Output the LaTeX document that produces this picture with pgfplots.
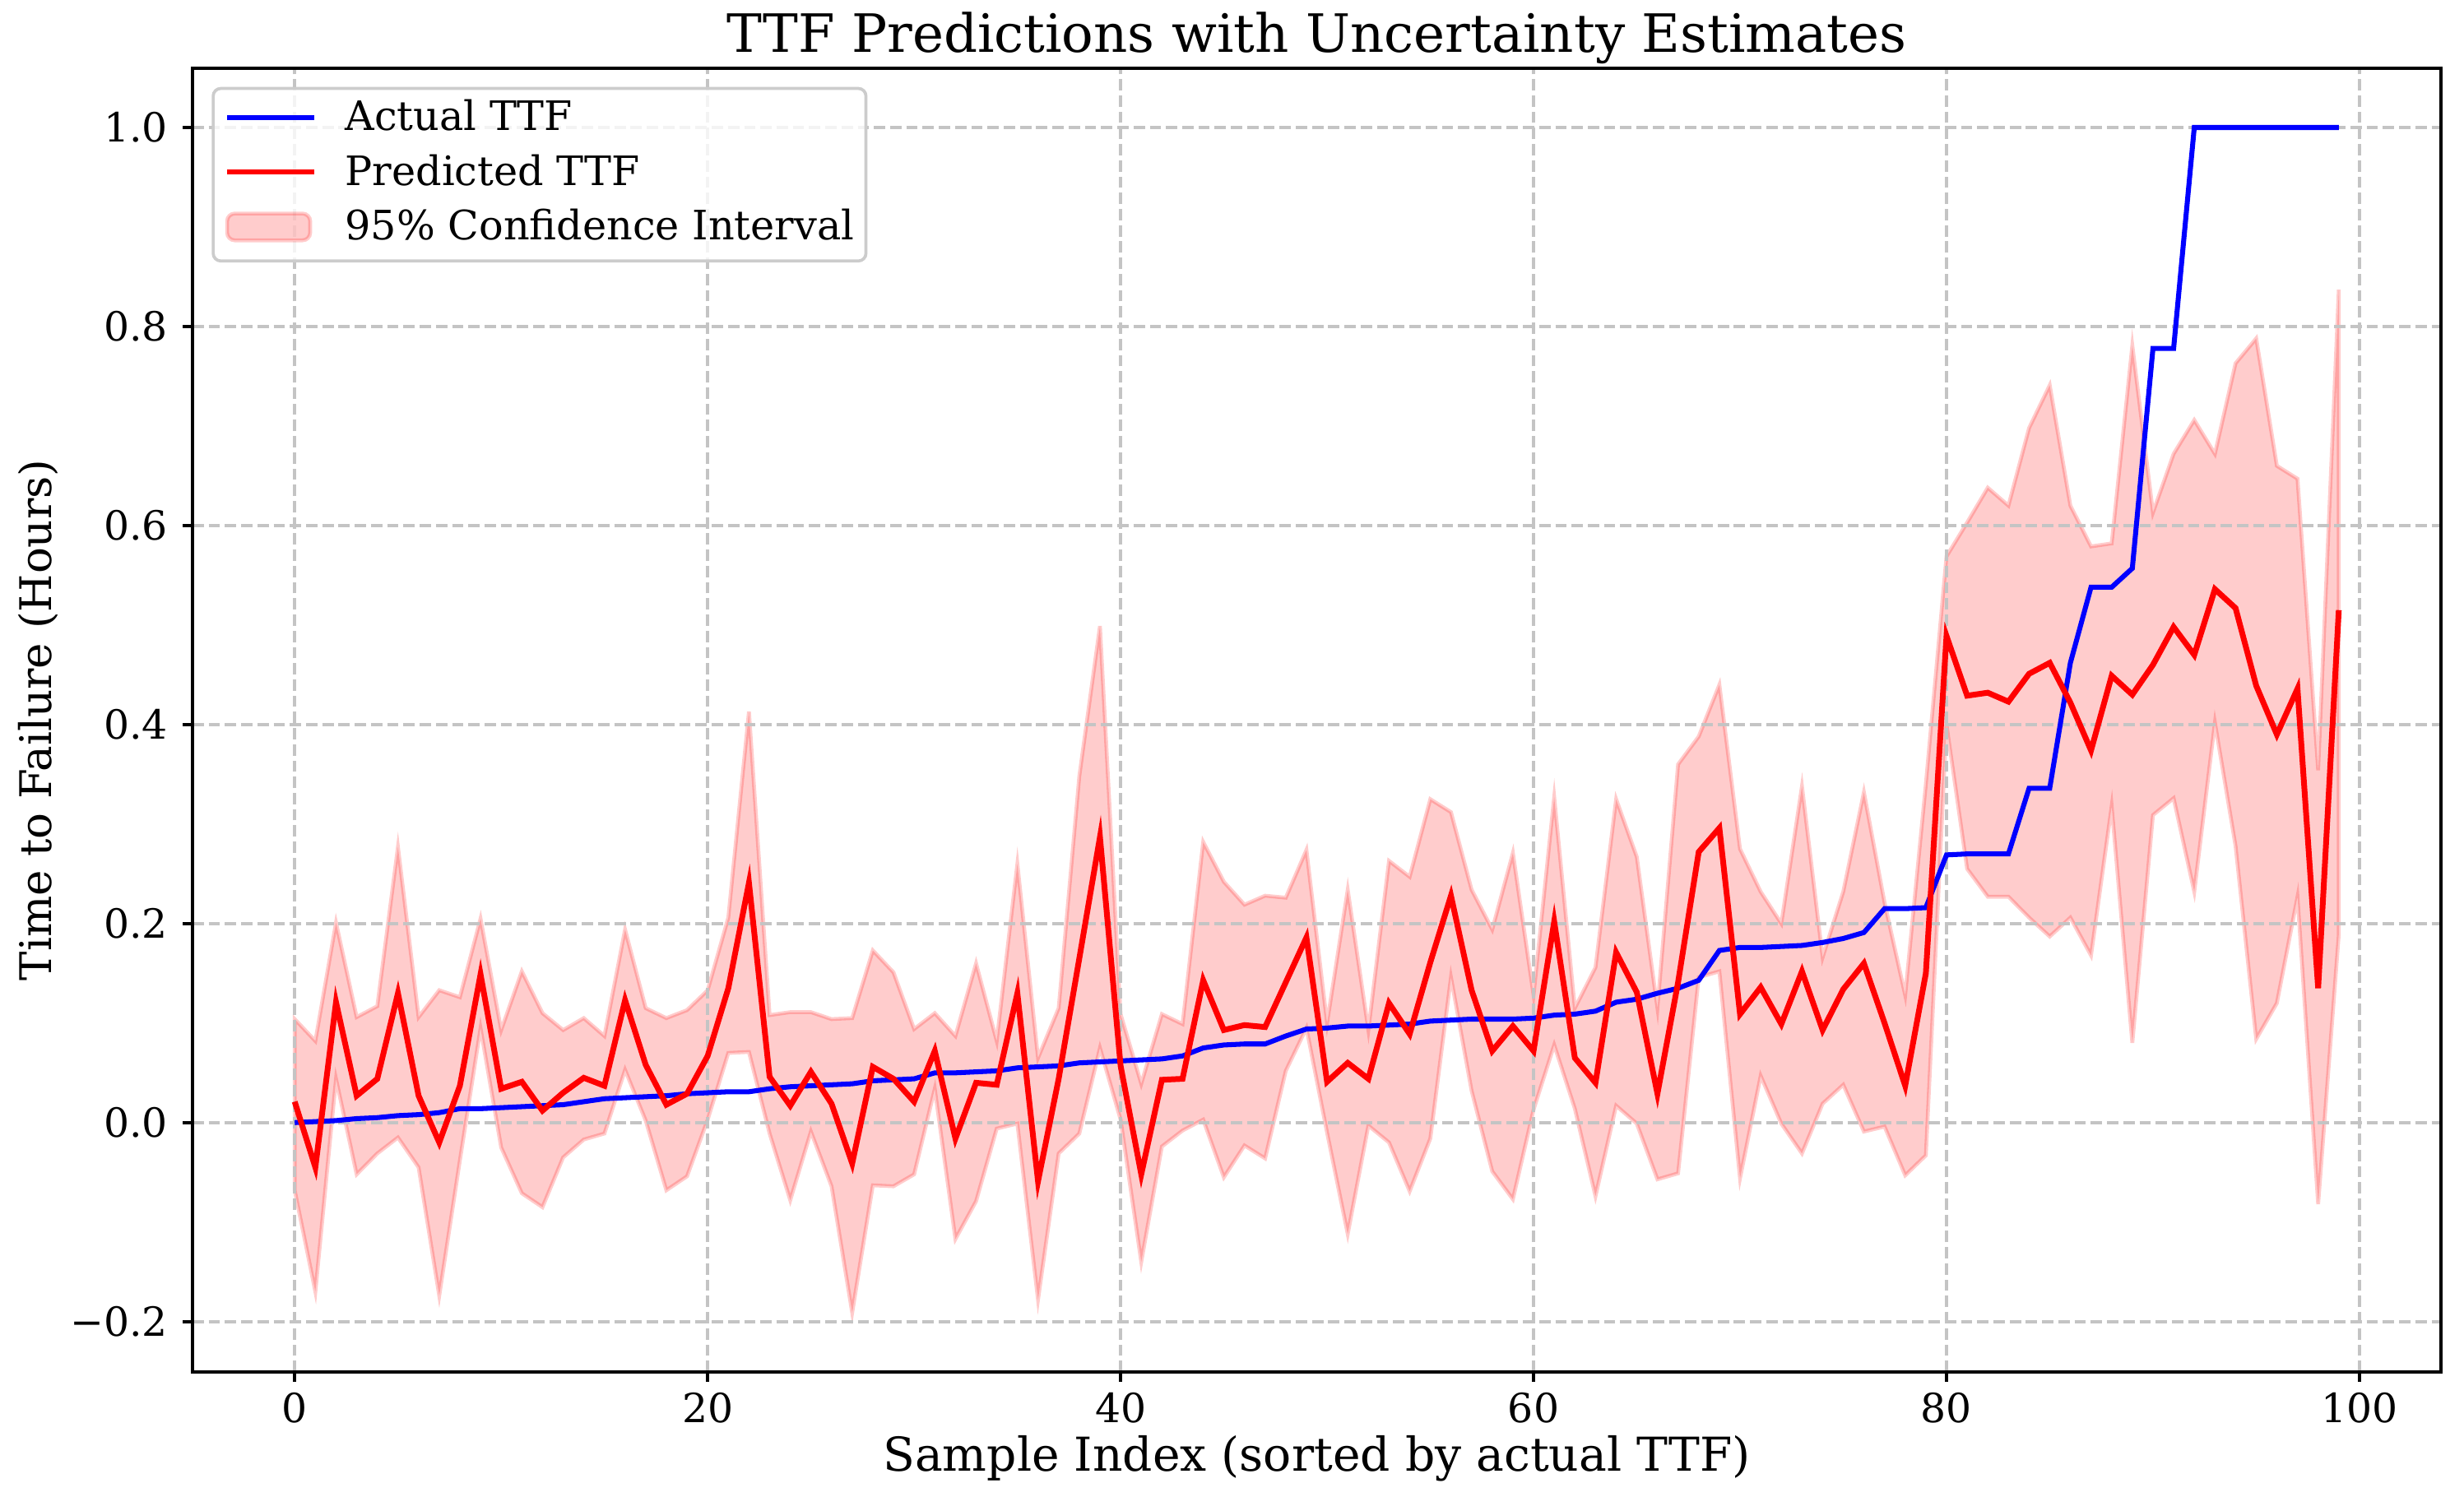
\documentclass[border=0pt]{standalone}
\usepackage{pgfplots}
\pgfplotsset{compat=1.18}
\usepackage{pgfplotstable}
\usepgfplotslibrary{fillbetween}
\usepackage{fontspec}
\setmainfont{DejaVu Serif}
\definecolor{gridc}{HTML}{C4C4C4}
\definecolor{legc}{HTML}{CCCCCC}
\pgfplotsset{
  legline/.style={legend image code/.code={\draw[##1] (0pt,3.4pt) -- (22.8pt,3.4pt);}},
  legarea/.style={legend image code/.code={\draw[##1] (0pt,-0.1pt) rectangle (21.7pt,6.9pt);}},
}
\pgfplotstableread{
i act pred lo up
0 0.000 0.021 -0.068 0.104
1 0.001 -0.045 -0.170 0.082
2 0.002 0.121 0.044 0.201
3 0.004 0.027 -0.052 0.106
4 0.005 0.044 -0.031 0.117
5 0.007 0.130 -0.015 0.277
6 0.008 0.027 -0.045 0.106
7 0.010 -0.020 -0.174 0.133
8 0.014 0.037 -0.038 0.126
9 0.014 0.149 0.095 0.205
10 0.015 0.034 -0.025 0.093
11 0.016 0.041 -0.071 0.152
12 0.017 0.012 -0.085 0.110
13 0.018 0.030 -0.035 0.093
14 0.021 0.045 -0.017 0.105
15 0.024 0.037 -0.011 0.087
16 0.025 0.123 0.053 0.194
17 0.026 0.058 0.002 0.115
18 0.027 0.018 -0.068 0.105
19 0.029 0.029 -0.054 0.113
20 0.030 0.067 0.003 0.133
21 0.031 0.135 0.070 0.206
22 0.031 0.241 0.071 0.413
23 0.034 0.046 -0.011 0.108
24 0.036 0.017 -0.078 0.111
25 0.037 0.051 -0.009 0.111
26 0.038 0.019 -0.064 0.104
27 0.039 -0.041 -0.191 0.105
28 0.042 0.056 -0.063 0.173
29 0.043 0.044 -0.064 0.151
30 0.044 0.021 -0.052 0.094
31 0.050 0.072 0.034 0.110
32 0.050 -0.016 -0.117 0.087
33 0.051 0.040 -0.079 0.160
34 0.052 0.038 -0.006 0.082
35 0.055 0.130 -0.001 0.260
36 0.056 -0.059 -0.178 0.065
37 0.057 0.044 -0.031 0.115
38 0.060 0.165 -0.011 0.348
39 0.061 0.287 0.075 0.499
40 0.062 0.057 0.003 0.109
41 0.063 -0.052 -0.140 0.039
42 0.064 0.043 -0.024 0.109
43 0.067 0.044 -0.008 0.099
44 0.075 0.143 0.003 0.282
45 0.078 0.093 -0.055 0.242
46 0.079 0.098 -0.023 0.219
47 0.079 0.096 -0.036 0.228
48 0.087 0.141 0.052 0.226
49 0.094 0.186 0.095 0.274
50 0.095 0.041 -0.010 0.100
51 0.097 0.060 -0.112 0.234
52 0.097 0.044 -0.003 0.093
53 0.098 0.120 -0.020 0.263
54 0.099 0.089 -0.069 0.247
55 0.102 0.161 -0.016 0.325
56 0.103 0.228 0.146 0.312
57 0.104 0.133 0.032 0.234
58 0.104 0.072 -0.049 0.194
59 0.104 0.097 -0.077 0.271
60 0.105 0.072 0.013 0.128
61 0.108 0.202 0.078 0.327
62 0.109 0.065 0.014 0.115
63 0.112 0.040 -0.074 0.156
64 0.121 0.171 0.017 0.325
65 0.124 0.131 -0.001 0.267
66 0.130 0.029 -0.057 0.115
67 0.135 0.141 -0.051 0.360
68 0.143 0.272 0.146 0.388
69 0.173 0.296 0.152 0.440
70 0.176 0.109 -0.056 0.275
71 0.176 0.136 0.047 0.232
72 0.177 0.099 -0.001 0.200
73 0.178 0.152 -0.031 0.338
74 0.181 0.093 0.019 0.166
75 0.185 0.134 0.038 0.232
76 0.191 0.160 -0.009 0.332
77 0.215 0.100 -0.004 0.221
78 0.215 0.037 -0.053 0.128
79 0.216 0.150 -0.033 0.340
80 0.269 0.489 0.400 0.569
81 0.270 0.429 0.255 0.603
82 0.270 0.432 0.227 0.638
83 0.270 0.423 0.227 0.620
84 0.336 0.451 0.206 0.698
85 0.336 0.462 0.187 0.741
86 0.462 0.422 0.206 0.620
87 0.538 0.374 0.168 0.579
88 0.538 0.449 0.318 0.582
89 0.557 0.430 0.080 0.781
90 0.778 0.460 0.309 0.613
91 0.778 0.498 0.326 0.672
92 1.000 0.470 0.232 0.706
93 1.000 0.536 0.402 0.672
94 1.000 0.517 0.278 0.763
95 1.000 0.439 0.084 0.788
96 1.000 0.390 0.120 0.660
97 1.000 0.436 0.227 0.647
98 1.000 0.135 -0.082 0.354
99 1.000 0.515 0.189 0.837
}\data

\begin{document}
\begin{tikzpicture}
\begin{axis}[
  set layers,
  scale only axis,
  width=587.6pt, height=340.8pt,
  xmin=-4.95, xmax=103.95, ymin=-0.2506, ymax=1.0596,
  axis line style={line width=0.8pt, black},
  tick align=outside, tick pos=left,
  major tick length=2.5pt,
  every tick/.style={black, line width=0.8pt},
  xtick={0,20,40,60,80,100},
  xticklabels={0,20,40,60,80,100},
  ytick={-0.2,0,0.2,0.4,0.6,0.8,1.0},
  yticklabels={−0.2,0.0,0.2,0.4,0.6,0.8,1.0},
  xticklabel style={font=\fontsize{10.5}{12}\selectfont, inner sep=0pt, anchor=north},
  yticklabel style={font=\fontsize{10.5}{12}\selectfont, inner sep=0pt, anchor=east},
  xticklabel shift=2.8pt,
  yticklabel shift=3.8pt,
  grid=major,
  major grid style={gridc, line width=0.8pt, dash pattern=on 2.96pt off 1.28pt},
  title={TTF Predictions with Uncertainty Estimates},
  title style={at={(axis description cs:0.5,0.9944)}, anchor=base, inner sep=0pt, font=\fontsize{13.8}{16}\selectfont},
  xlabel={Sample Index (sorted by actual TTF)},
  xlabel style={at={(axis description cs:0.5,-0.0763)}, anchor=base, inner sep=0pt, font=\fontsize{12.2}{14}\selectfont},
  ylabel={Time to Failure (Hours)},
  ylabel style={at={(axis description cs:-0.0626,0.5)}, anchor=base, inner sep=0pt, font=\fontsize{11.4}{14}\selectfont},
  legend style={at={(axis description cs:0,1)}, anchor=north west, xshift=5pt, yshift=-4.9pt,
    draw=legc, line width=0.8pt, rounded corners=2pt, fill=white, fill opacity=0.8, text opacity=1,
    inner xsep=3pt, inner ysep=3.2pt, row sep=4.2pt, column sep=7.4pt,
    font=\fontsize{10.6}{13}\selectfont,
    nodes={inner sep=0pt, text height=7.8pt, text depth=2.3pt},
    cells={anchor=base west}},
]
\addplot[name path=up, draw=none, forget plot] table[x=i,y=up]{\data};
\addplot[name path=lo, draw=none, forget plot] table[x=i,y=lo]{\data};
\addplot[fill=red, fill opacity=0.2, draw=red, draw opacity=0.2, line width=1pt, forget plot]
  fill between[of=up and lo, on layer=axis background];
\addplot[blue, line width=1.3pt, forget plot] table[x=i,y=act]{\data};
\addplot[red, line width=1.5pt, forget plot] table[x=i,y=pred]{\data};
\addlegendimage{blue, line width=1.3pt, legline}
\addlegendentry{Actual TTF}
\addlegendimage{red, line width=1.3pt, legline}
\addlegendentry{Predicted TTF}
\addlegendimage{fill=red, fill opacity=0.2, draw=red, draw opacity=0.2, line width=1pt, legarea}
\addlegendentry{95\% Confidence Interval}
\end{axis}
\pgfresetboundingbox
\path (-50.31pt,-32.47pt) rectangle (593.62pt,358.62pt);
\end{tikzpicture}
\end{document}
